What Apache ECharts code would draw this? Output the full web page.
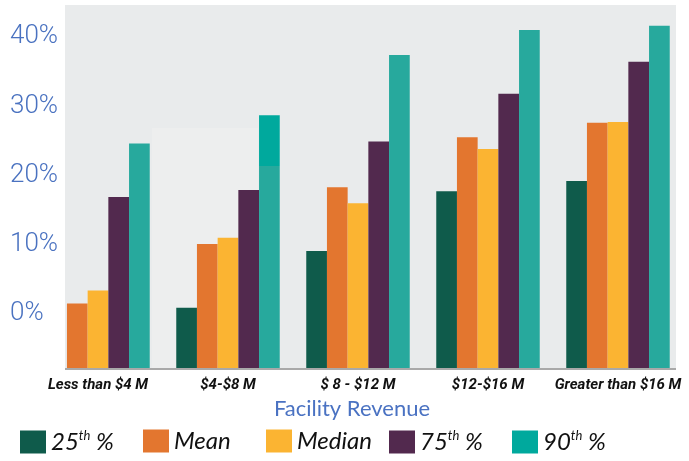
<!DOCTYPE html>
<html><head><meta charset="utf-8">
<script src="https://cdn.jsdelivr.net/npm/echarts@6/dist/echarts.min.js"></script>
<style>html,body{margin:0;padding:0;background:#fff}#c{width:689px;height:461px}</style>
</head><body><div id="c"></div>
<script>
const CATEGORIES = ['Less than $4 M', '$4-$8 M', '$ 8 - $12 M', '$12-$16 M', 'Greater than $16 M'];
const SERIES_NAMES = ['25th %', 'Mean', 'Median', '75th %', '90th %'];
const P25 = [null, 0.9, 9.1, 17.7, 19.2];
const MEAN = [1.5, 10.1, 18.3, 25.5, 27.6];
const MEDIAN = [3.4, 11.0, 16.0, 23.8, 27.7];
const P75 = [16.9, 17.9, 24.9, 31.8, 36.4];
const P90 = [24.6, 28.7, 37.4, 41.0, 41.6];
const Y_TICKS = [0, 10, 20, 30, 40];
const AXIS_MIN = -7.8, AXIS_MAX = 44.6;

const VALUES = [P25, MEAN, MEDIAN, P75, P90];
const COLORS = ['#0f5b4b', '#e3762f', '#fbb432', '#52294e', '#27a99d'];
const LEGEND_COLORS = ['#0f5b4b', '#e3762f', '#fbb432', '#52294e', '#00a99d'];

const chart = echarts.init(document.getElementById('c'), null, {renderer: 'canvas'});

const series = SERIES_NAMES.map((name, i) => ({
  name, type: 'bar',
  data: VALUES[i].map((v, j) => {
    if (i === 4 && j === 1) {
      return {value: v, itemStyle: {color: {type: 'linear', x: 0, y: 0, x2: 0, y2: 1, colorStops: [
        {offset: 0, color: '#00a99d'}, {offset: 0.2, color: '#00a99d'},
        {offset: 0.2, color: '#27a99d'}, {offset: 1, color: '#27a99d'}]}}};
    }
    return v;
  }),
  itemStyle: {color: COLORS[i]},
  barGap: '0%',
  barCategoryGap: '20.4%',
  animation: false
}));

function legendFmt(name) {
  const m = name.match(/^(\d+)th (.*)$/);
  if (m) return '{n|' + m[1] + '}{s|th}{n| ' + m[2] + '}';
  return '{n|' + name + '}';
}

const legends = SERIES_NAMES.map((n, i) => ({
  left: 20 + 123 * i, top: 429, itemWidth: 26, itemHeight: 23,
  icon: 'rect', selectedMode: false, padding: 0,
  data: [{name: n, itemStyle: {color: LEGEND_COLORS[i]}}],
  formatter: legendFmt,
  textStyle: {
    color: '#111',
    rich: {
      n: {fontFamily: 'Lato', fontStyle: 'italic', fontSize: 24, color: '#111', lineHeight: 26},
      s: {fontFamily: 'Lato', fontStyle: 'italic', fontSize: 13, color: '#111', verticalAlign: 'top', lineHeight: 26, padding: [0, 0, 10, 0]}
    }
  }
}));

chart.setOption({
  animation: false,
  backgroundColor: '#ffffff',
  grid: {left: 33, right: 6, top: 5, bottom: 93, containLabel: false},
  graphic: [
    {type: 'rect', z: -10, silent: true, shape: {x: 65, y: 5, width: 611, height: 363}, style: {fill: '#e9ebec'}},
    {type: 'rect', z: -9, silent: true, shape: {x: 152, y: 128, width: 106, height: 240}, style: {fill: '#edeeee'}},
    {type: 'line', z: -8, silent: true, shape: {x1: 65, y1: 369, x2: 676, y2: 369}, style: {stroke: '#a9a9a9', lineWidth: 2}}
  ],
  xAxis: {
    type: 'category', data: CATEGORIES,
    axisLine: {show: false}, axisTick: {show: false},
    axisLabel: {margin: 10, color: '#111', fontFamily: 'Roboto', fontStyle: 'italic', fontWeight: 'bold', fontSize: 15, interval: 0},
    name: 'Facility Revenue', nameLocation: 'middle', nameGap: 30,
    nameTextStyle: {color: '#4a72c2', fontFamily: 'Lato', fontSize: 22, padding: [0, 12, 0, 0]}
  },
  yAxis: {
    type: 'value', min: AXIS_MIN, max: AXIS_MAX, startValue: AXIS_MIN,
    splitLine: {show: false}, axisLine: {show: false}, axisTick: {show: false},
    axisLabel: {
      customValues: Y_TICKS, align: 'left', margin: 23,
      color: '#4a72c0', fontFamily: 'Roboto', fontWeight: 300, fontSize: 26,
      formatter: v => Math.round(v) + '%'
    }
  },
  legend: legends,
  series
});
</script></body></html>
